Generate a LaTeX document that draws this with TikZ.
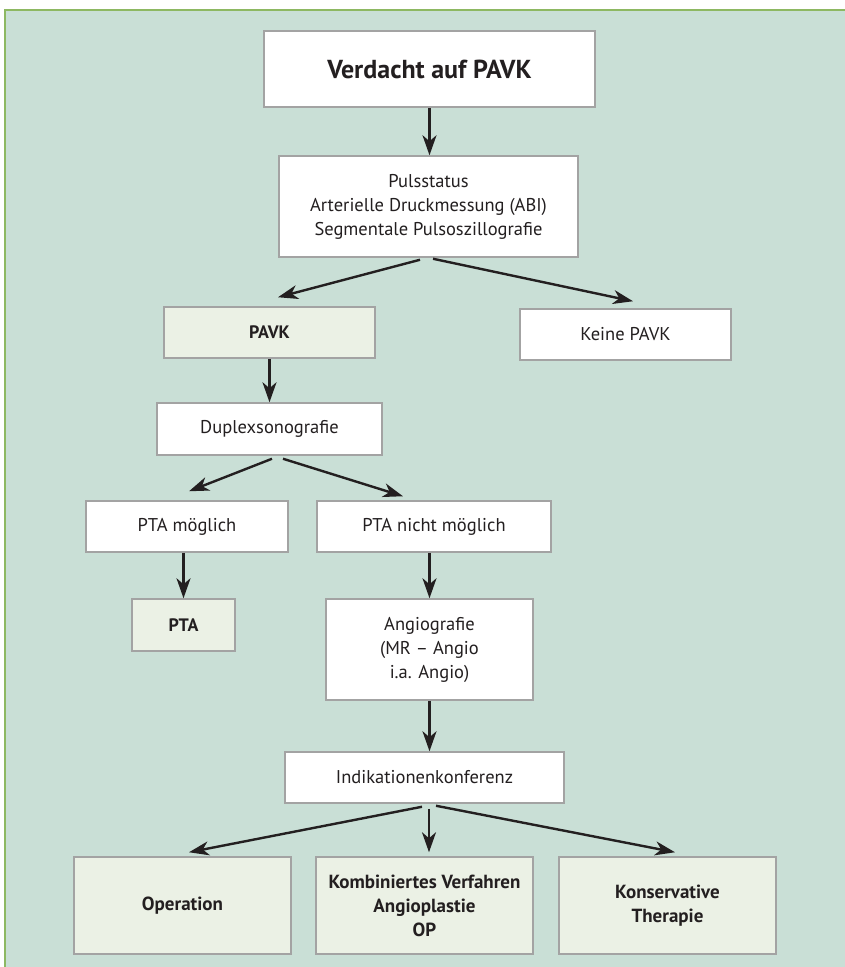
\documentclass[tikz,border=0pt]{standalone}
\usepackage{fontspec}
\setmainfont{PT Sans}
\usepackage{tikz}
\usetikzlibrary{arrows.meta}

\definecolor{panel}{HTML}{C9DFD6}
\definecolor{rim}{HTML}{8DB862}
\definecolor{lightbox}{HTML}{EBF1E5}
\definecolor{boxline}{HTML}{A3A3A3}
\definecolor{ink}{HTML}{231F20}

\begin{document}
\begin{tikzpicture}[x=1pt,y=-1pt,
        box/.style={draw=boxline, line width=1.5pt, fill=white, inner sep=0pt, align=center, text=ink, font=\fontsize{18.5}{24}\selectfont},
        hit/.style={box, fill=lightbox, font=\bfseries\fontsize{18}{24}\selectfont},
        big/.style={hit, font=\bfseries\fontsize{19}{24}\selectfont},
        arr/.style={draw=ink, line width=2.4pt, -{Stealth[length=20pt,width=14pt,inset=6pt]}}]
        \useasboundingbox (0,0) rectangle (845,967);
        \fill[panel] (5,10) rectangle (845,967);
        \draw[rim, line width=2pt] (5,967) -- (5,10) -- (845,10);

        \node[box, minimum width=331pt, minimum height=76pt, font=\bfseries\fontsize{26}{30}\selectfont] (verdacht) at (429.5,69) {Verdacht auf PAVK};
        \node[box, minimum width=299pt, minimum height=101pt] (puls) at (428.5,206.5) {Pulsstatus\\Arterielle Druckmessung (ABI)\\Segmentale Pulsoszillografie};
        \node[hit, minimum width=211pt, minimum height=51pt] (pavk) at (269.5,332.5) {PAVK};
        \node[box, minimum width=211pt, minimum height=51pt] (keine) at (625.5,334.5) {Keine PAVK};
        \node[box, minimum width=225pt, minimum height=52pt] (duplex) at (269.5,429) {Duplexsonografie};
        \node[box, minimum width=202pt, minimum height=51pt] (ptam) at (187,526.5) {PTA möglich};
        \node[box, minimum width=234pt, minimum height=51pt] (ptan) at (434,526.5) {PTA nicht möglich};
        \node[hit, minimum width=103pt, minimum height=52pt] (pta) at (183.5,625) {PTA};
        \node[box, minimum width=207pt, minimum height=101pt] (angio) at (429.5,649.5) {Angiografie\\(MR -- Angio\\i.a. Angio)};
        \node[box, minimum width=279pt, minimum height=51pt] (indik) at (424.5,777.5) {Indikationenkonferenz};
        \node[big, minimum width=217pt, minimum height=97pt] (op) at (182.5,905.5) {Operation};
        \node[big, minimum width=217pt, minimum height=97pt] (komb) at (424.5,905.5) {Kombiniertes Verfahren\\Angioplastie\\OP};
        \node[big, minimum width=217pt, minimum height=97pt] (kons) at (667.5,905.5) {Konservative\\Therapie};

        \draw[arr] (verdacht.south) -- (verdacht.south |- puls.north);
        \draw[arr] ([xshift=-8.5pt,yshift=-2pt]puls.south) -- ([xshift=8.5pt,yshift=9pt]pavk.north);
        \draw[arr] ([xshift=4.5pt,yshift=-1pt]puls.south) -- ([xshift=7.5pt,yshift=7pt]keine.north);
        \draw[arr] (pavk.south) -- (pavk.south |- duplex.north);
        \draw[arr] ([xshift=2.5pt,yshift=-3pt]duplex.south) -- ([xshift=2pt,yshift=9pt]ptam.north);
        \draw[arr] ([xshift=13.5pt,yshift=-3pt]duplex.south) -- ([xshift=-31pt,yshift=4pt]ptan.north);
        \draw[arr] (pta.north |- ptam.south) -- (pta.north);
        \draw[arr] (angio.north |- ptan.south) -- (angio.north);
        \draw[arr] (angio.south) -- (angio.south |- indik.north);
        \draw[arr] ([xshift=-2.5pt,yshift=-3pt]indik.south) -- ([xshift=6.5pt,yshift=4pt]op.north);
        \draw[arr] ([xshift=4.5pt,yshift=-5pt]indik.south) -- ([xshift=4.5pt,yshift=4pt]komb.north);
        \draw[arr] ([xshift=11.5pt,yshift=-2pt]indik.south) -- ([xshift=7.5pt,yshift=4pt]kons.north);
\end{tikzpicture}
\end{document}
